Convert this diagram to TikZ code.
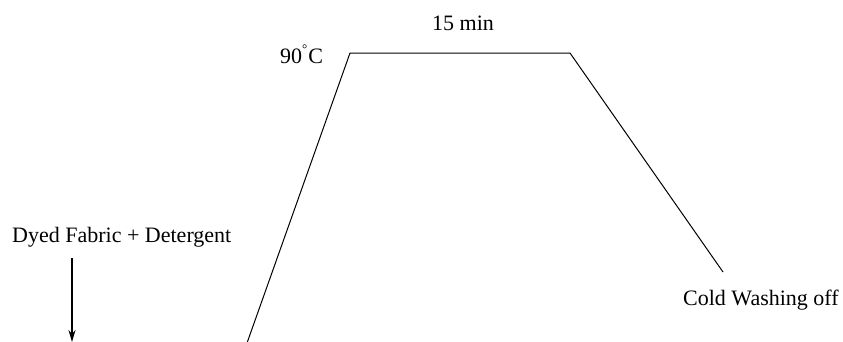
\documentclass[tikz,border=0pt]{standalone}
\usepackage{fontspec}
\setmainfont{Liberation Serif}
\usetikzlibrary{arrows.meta}
\begin{document}
\begin{tikzpicture}[x=1pt,y=-1pt,
  lbl/.style={inner sep=0pt,anchor=base west,font=\fontsize{22}{26}\selectfont},
  curve/.style={draw=black,line width=1pt,line join=miter},
  arr/.style={draw=black,line width=1.8pt,-{Stealth[length=12pt,width=7pt]}}]
\useasboundingbox[fill=white] (0,0) rectangle (843,341);
\node[lbl] (dyed) at (12,242) {Dyed Fabric + Detergent};
\node[lbl] (time) at (432,30) {15 min};
\node[lbl] (temp) at (280,63) {90\raisebox{0.45em}{\fontsize{13}{13}\selectfont °}\hspace{1pt}C};
\node[lbl] (cold) at (683,305) {Cold Washing off};
\coordinate (p0) at (247,343);
\coordinate (p1) at (350,53);
\coordinate (p2) at (570,53);
\coordinate (p3) at (723,272);
\coordinate (a0) at (72,258);
\coordinate (a1) at (72,342);
\draw[curve] (p0) -- (p1) -- (p2) -- (p3);
\draw[arr] (a0) -- (a1);
\end{tikzpicture}
\end{document}
